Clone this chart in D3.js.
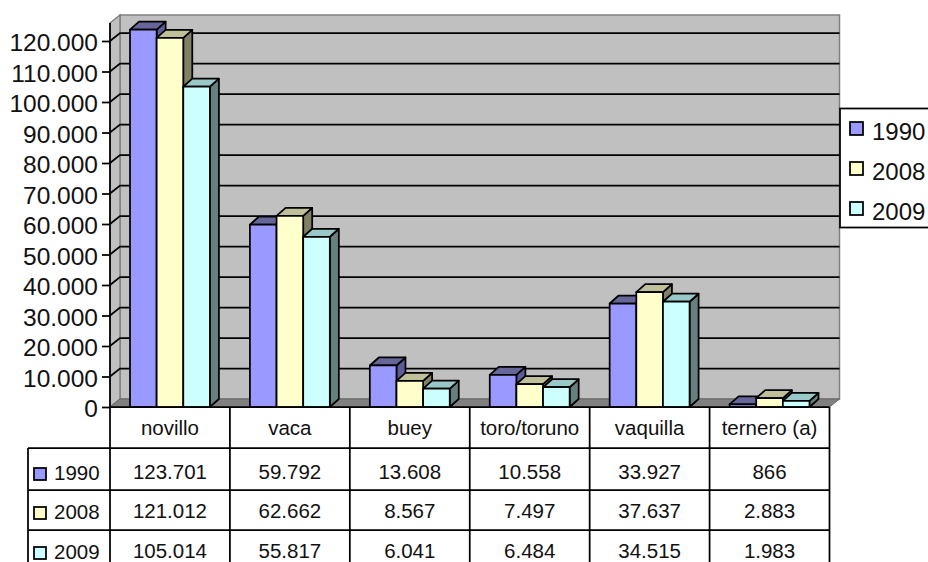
<!DOCTYPE html>
<html>
<head>
<meta charset="utf-8">
<script src="https://cdn.jsdelivr.net/npm/d3@7"></script>
<style>
  html, body { margin: 0; padding: 0; background: #fff; overflow: hidden; }
  text { font-family: "Liberation Sans", Arial, sans-serif; fill: #111; }
</style>
</head>
<body>
<div id="chart"></div>
<script>
const categories = ["novillo", "vaca", "buey", "toro/toruno", "vaquilla", "ternero (a)"];
const seriesNames = ["1990", "2008", "2009"];
const values1990 = [123701, 59792, 13608, 10558, 33927, 866];
const values2008 = [121012, 62662, 8567, 7497, 37637, 2883];
const values2009 = [105014, 55817, 6041, 6484, 34515, 1983];
const yTicks = [0, 10000, 20000, 30000, 40000, 50000, 60000, 70000, 80000, 90000, 100000, 110000, 120000];

const seriesValues = [values1990, values2008, values2009];
const frontColors = ["#9999ff", "#ffffcc", "#ccffff"];
const topColors = ["#666699", "#bfbf99", "#99c8c8"];
const sideColors = ["#5c5c99", "#808066", "#668080"];

const width = 928;
const height = 562;
// 3D offset between front and back of the plot
const depthX = 10;
const depthY = 8;
const barDepthX = 9;
const barDepthY = 8;

const left = 110;
const right = 829.5;
const zeroY = 407;
const topY = 23;
const lineW = 1.75;

const fmt = d3.formatLocale({ decimal: ",", thousands: ".", grouping: [3], currency: ["", ""] }).format(",d");

const x = d3.scaleBand().domain(categories).range([left, right]);
const xSeries = d3.scaleBand().domain(seriesNames).range([20, x.bandwidth() - 20]);
const y = d3.scaleLinear().domain([0, 120000]).range([zeroY, 41]);

const svg = d3.select("#chart").append("svg")
  .attr("width", width)
  .attr("height", height)
  .style("display", "block");

const poly = (pts) => pts.map((p) => p.join(",")).join(" ");

// Back wall, side wall and floor
svg.append("polygon")
  .attr("points", poly([[left + depthX, topY - depthY], [right + depthX, topY - depthY], [right + depthX, zeroY - depthY], [left + depthX, zeroY - depthY]]))
  .attr("fill", "#c0c0c0").attr("stroke", "#808080").attr("stroke-width", 1.5);
svg.append("polygon")
  .attr("points", poly([[left, topY], [left + depthX, topY - depthY], [left + depthX, zeroY - depthY], [left, zeroY]]))
  .attr("fill", "#c0c0c0").attr("stroke", "#808080").attr("stroke-width", 1.5);
svg.append("polygon")
  .attr("points", poly([[left, zeroY], [left + depthX, zeroY - depthY], [right + depthX, zeroY - depthY], [right, zeroY]]))
  .attr("fill", "#808080").attr("stroke", "#666").attr("stroke-width", 1);

// Gridlines on side wall and back wall
svg.append("g").selectAll("polyline")
  .data(yTicks.filter((d) => d > 0))
  .enter()
  .append("polyline")
  .attr("points", (d) => poly([[left, y(d)], [left + depthX, y(d) - depthY], [right + depthX, y(d) - depthY]]))
  .attr("fill", "none")
  .attr("stroke", "#000")
  .attr("stroke-width", lineW);

// Bars, left to right so each front face covers the side of the previous one
categories.forEach((cat, i) => {
  seriesNames.forEach((name, s) => {
    const v = seriesValues[s][i];
    const x0 = x(cat) + xSeries(name);
    const x1 = x0 + xSeries.bandwidth();
    const yTop = y(v);
    const g = svg.append("g").attr("stroke", "#000").attr("stroke-width", lineW).attr("stroke-linejoin", "round");
    g.append("polygon")
      .attr("points", poly([[x1, yTop], [x1 + barDepthX, yTop - barDepthY], [x1 + barDepthX, zeroY - barDepthY], [x1, zeroY]]))
      .attr("fill", sideColors[s]);
    g.append("polygon")
      .attr("points", poly([[x0, yTop], [x0 + barDepthX, yTop - barDepthY], [x1 + barDepthX, yTop - barDepthY], [x1, yTop]]))
      .attr("fill", topColors[s]);
    g.append("rect")
      .attr("x", x0)
      .attr("y", yTop)
      .attr("width", x1 - x0)
      .attr("height", zeroY - yTop)
      .attr("fill", frontColors[s]);
  });
});

// Y axis
const yAxis = svg.append("g")
  .attr("transform", `translate(${left},0)`)
  .call(d3.axisLeft(y).tickValues(yTicks).tickFormat(fmt).tickSize(8).tickSizeOuter(0).tickPadding(4));
yAxis.select(".domain").attr("d", `M0,${topY}V${zeroY}`).attr("stroke", "#000").attr("stroke-width", lineW);
yAxis.selectAll(".tick line").attr("stroke", "#000").attr("stroke-width", lineW);
yAxis.selectAll(".tick text").style("font-size", "24.5px").attr("fill", "#111").attr("dy", "0.4em")
  .style("font-family", '"Liberation Sans", Arial, sans-serif');

// Data table below the plot
const tableLeft = 28;
const rowLines = [448, 490, 530];
const textY = [479, 518, 558];

const table = svg.append("g").attr("stroke", "#000").attr("stroke-width", lineW);
table.append("line").attr("x1", left).attr("x2", right).attr("y1", zeroY).attr("y2", zeroY);
rowLines.forEach((ry) => {
  table.append("line").attr("x1", tableLeft).attr("x2", right).attr("y1", ry).attr("y2", ry);
});
table.append("line").attr("x1", tableLeft).attr("x2", tableLeft).attr("y1", rowLines[0]).attr("y2", height);
categories.concat([null]).forEach((cat) => {
  const vx = cat === null ? right : x(cat);
  table.append("line").attr("x1", vx).attr("x2", vx).attr("y1", zeroY).attr("y2", height);
});

svg.append("g").selectAll("text")
  .data(categories)
  .enter()
  .append("text")
  .attr("x", (d) => x(d) + x.bandwidth() / 2)
  .attr("y", 435)
  .attr("text-anchor", "middle")
  .style("font-size", "20.5px")
  .text((d) => d);

seriesNames.forEach((name, s) => {
  svg.append("rect")
    .attr("x", 34).attr("y", textY[s] - 11)
    .attr("width", 12).attr("height", 12)
    .attr("fill", frontColors[s]).attr("stroke", "#000").attr("stroke-width", lineW);
  svg.append("text")
    .attr("x", 54).attr("y", textY[s] + 1)
    .style("font-size", "20.5px")
    .text(name);
  svg.append("g").selectAll("text")
    .data(categories)
    .enter()
    .append("text")
    .attr("x", (d) => x(d) + x.bandwidth() / 2)
    .attr("y", textY[s])
    .attr("text-anchor", "middle")
    .style("font-size", "20.5px")
    .text((d, i) => fmt(seriesValues[s][i]));
});

// Legend, runs off the right edge like the source
svg.append("rect")
  .attr("x", 840).attr("y", 108.5)
  .attr("width", 100).attr("height", 119)
  .attr("fill", "#fff").attr("stroke", "#000").attr("stroke-width", lineW);
seriesNames.forEach((name, s) => {
  const ly = 122 + s * 40;
  svg.append("rect")
    .attr("x", 850).attr("y", ly)
    .attr("width", 13).attr("height", 13)
    .attr("fill", frontColors[s]).attr("stroke", "#000").attr("stroke-width", lineW);
  svg.append("text")
    .attr("x", 872).attr("y", ly + 18)
    .style("font-size", "24px")
    .text(name);
});
</script>
</body>
</html>
